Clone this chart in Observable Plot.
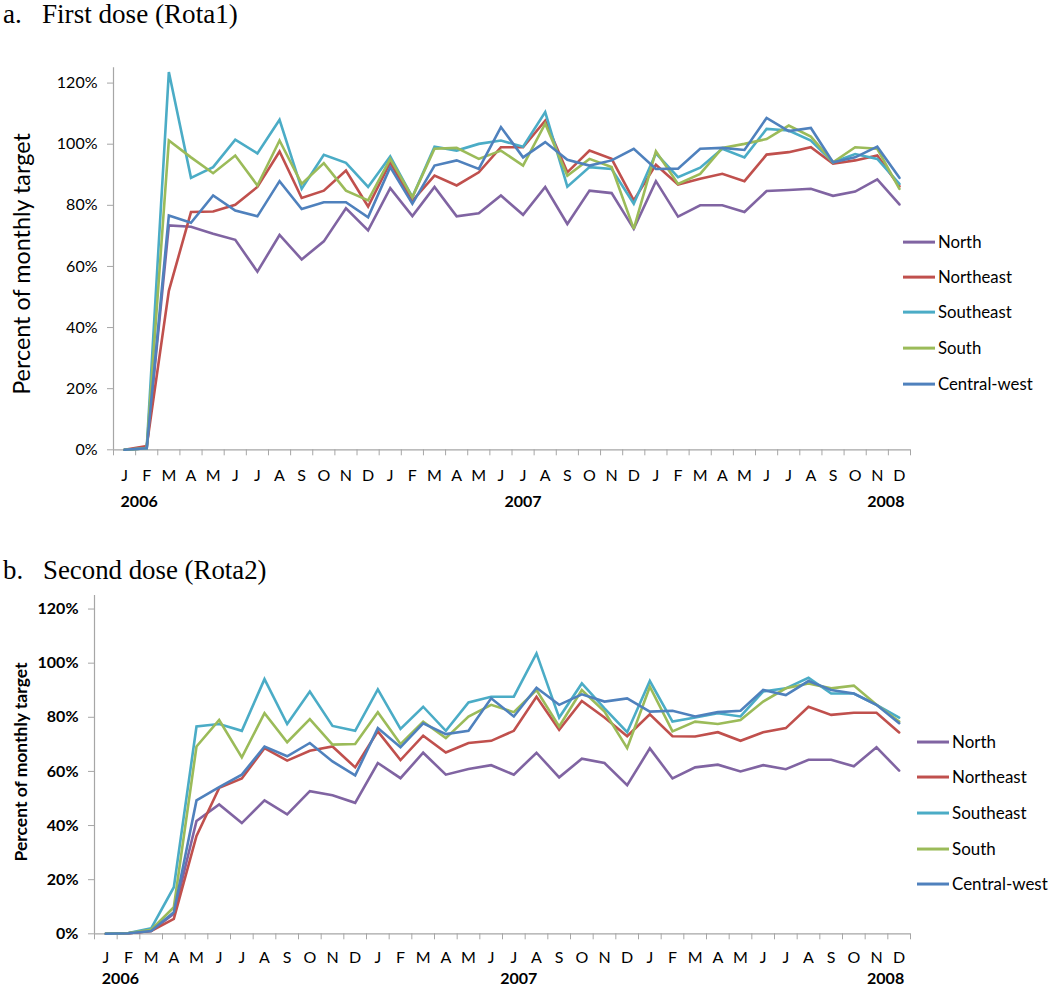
<!DOCTYPE html>
<html>
<head>
<meta charset="utf-8">
<script src="https://cdn.jsdelivr.net/npm/d3@7"></script>
<script src="https://cdn.jsdelivr.net/npm/@observablehq/plot@0.6"></script>
<style>
  html, body { margin: 0; padding: 0; background: #fff; }
  #page { position: relative; width: 1050px; height: 990px; overflow: hidden; font-family: Lato, "Open Sans", sans-serif; color: #000; }
  .panel { position: absolute; left: 0; }
  .title { position: absolute; font-family: "Liberation Serif", "Times New Roman", serif; white-space: nowrap; line-height: 1; }
  .ylab { position: absolute; white-space: nowrap; line-height: 1; transform: translate(-50%, -50%) rotate(-90deg); }
  .leg { position: absolute; display: flex; align-items: center; transform: translateY(-50%); white-space: nowrap; line-height: 1; }
  .leg .sw { width: 32px; height: 3px; margin-right: 3px; flex: none; }
</style>
</head>
<body>
<div id="page"></div>
<script>
// ---------------- data ----------------
const months = ["J","F","M","A","M","J","J","A","S","O","N","D"];
const yearLabels = ["2006","2007","2008"];
const regions = ["North","Northeast","Southeast","South","Central-west"];
const regionColors = ["#8064A2","#C0504D","#4BACC6","#9BBB59","#4F81BD"];
const yTicks = [0,20,40,60,80,100,120];

// a. First dose (Rota1), % of monthly target, Jan 2006 - Dec 2008
const rota1North = [0,0.5,73.4,73,70.7,68.7,58.3,70.3,62.3,68.2,79,71.8,
  85.6,76.5,86,76.4,77.4,83.2,76.9,86,73.9,84.8,84,72.3,
  87.9,76.3,80,80,77.8,84.7,85,85.4,83.1,84.5,88.5,80.3];
const rota1Northeast = [0,1.2,52,77.8,78,80.2,86,97.6,82.4,84.8,91.4,79.6,
  94,81.5,89.7,86.5,90.8,99,99,107.7,90.8,97.9,95.2,81.6,
  93.3,86.8,88.7,90.3,87.9,96.6,97.4,99,93.6,94.7,96.3,86.2];
const rota1Southeast = [0,0.5,123.6,89,92.5,101.5,97,108,85.4,96.5,93.9,86,
  96,82.7,99.2,97.9,100.1,101.2,99.2,110.5,86.1,92.5,91.9,80.5,
  97,89.2,92.3,98.5,95.7,105,104.5,101.2,94.1,96.8,95.2,87];
const rota1South = [0,0.5,101.2,95.7,90.5,96.3,86.5,101.2,87,93.8,84.8,81.6,
  95.2,82.7,98.5,98.8,95.2,97.9,93,106.7,89.7,95.2,92.5,72.3,
  97.7,87,90.3,98.8,100.1,101.7,106.1,102.5,94.1,99,98.5,85.4];
const rota1CentralWest = [0,0.5,76.7,74.3,83.2,78.3,76.4,87.9,78.8,81,81,76.1,
  92.5,80.5,93,94.7,91.9,105.6,95.7,100.7,94.9,93,94.7,98.5,
  91.9,92,98.5,98.8,98.1,108.6,104.3,105.3,94.1,95.7,99.2,89];

// b. Second dose (Rota2)
const rota2North = [0,0.2,1,7.4,41.7,47.8,40.9,49.3,44.1,52.7,51.2,48.4,
  63.1,57.5,66.9,58.8,60.9,62.3,58.8,66.9,57.8,64.7,63.1,54.9,
  68.5,57.4,61.5,62.5,60,62.3,60.8,64.3,64.3,61.9,68.9,60.3];
const rota2Northeast = [0,0.2,1,5.5,36.2,53.9,57.4,68.6,64,67.6,69.2,61.5,
  74.8,64.2,73.2,67,70.5,71.3,75,87.6,75.4,86,79.9,73,
  81.1,73,72.9,74.5,71.3,74.5,76,83.9,80.9,81.7,81.7,74.4];
const rota2Southeast = [0,0.3,2,17.2,76.6,77.5,75,94.1,77.5,89.5,76.8,75,
  90.3,75.7,83.9,75,85.5,87.6,87.6,103.6,79.9,92.5,83.3,74.5,
  93.4,78.4,79.9,81.5,80.3,89.5,90.7,94.6,88.8,88.8,84.6,79.9];
const rota2South = [0,0.3,1.5,9.8,69.2,79,65.2,81.5,70.8,79.3,69.9,70.1,
  81.9,70.1,78.4,72.3,80.3,84.6,81.9,90.1,76.6,90.1,82.1,68.6,
  91.3,74.8,78.4,77.5,79,85.8,90.7,92.5,90.7,91.7,84.6,78.4];
const rota2CentralWest = [0,0.2,1,8,49.3,54.2,58.8,69.2,65.6,70.5,63.7,58.5,
  76,68.9,77.8,73.8,75,87,80.3,90.9,84.6,88.5,85.8,87,
  82.1,82.4,80.3,81.9,82.4,90.1,88.2,93.4,90.1,88.8,84.6,77.8];

// ---------------- helpers ----------------
function tidy(seriesList) {
  const out = [];
  seriesList.forEach((vals, k) => vals.forEach((v, i) => out.push({i, v, region: regions[k]})));
  return out;
}
const nMonths = 36;
const monthIdx = d3.range(nMonths);
const boundaries = d3.range(nMonths + 1).map(d => d - 0.5);
const yearMarks = [
  {i: 0, label: yearLabels[0], anchor: "start"},
  {i: 18, label: yearLabels[1], anchor: "middle"},
  {i: 35, label: yearLabels[2], anchor: "end"}
];
const axisGray = "#a6a6a6";

function panel(data, o) {
  const yearCommon = {x: "i", text: "label", frameAnchor: "bottom", lineAnchor: "middle", dy: o.yearDy, fontWeight: "bold"};
  return Plot.plot({
    width: 1050, height: o.height,
    marginLeft: o.ml, marginRight: o.mr, marginTop: o.mt, marginBottom: o.mb,
    style: {fontFamily: "Lato, 'Open Sans', sans-serif", fontSize: "16px", background: "transparent", color: "#000", overflow: "visible"},
    x: {type: "linear", domain: [-0.5, nMonths - 0.5]},
    y: {domain: [0, 125]},
    color: {domain: regions, range: regionColors},
    marks: [
      Plot.ruleX([-0.5], {stroke: axisGray, strokeWidth: 1.2}),
      Plot.ruleY([0], {stroke: axisGray, strokeWidth: 1.2}),
      Plot.axisY({ticks: yTicks, tickSize: 6, tickPadding: 10, tickFormat: d => d + "%", stroke: axisGray, fill: "#000", label: null, fontWeight: o.yBold ? "bold" : "normal"}),
      Plot.axisX({ticks: boundaries, tickSize: 6, tickFormat: () => "", stroke: axisGray, label: null}),
      Plot.axisX({ticks: monthIdx, tickSize: 0, tickPadding: o.monthPad, tickFormat: i => months[i % 12], fill: "#000", label: null}),
      Plot.text(yearMarks, {...yearCommon, textAnchor: "start", dx: -4, filter: d => d.anchor === "start"}),
      Plot.text(yearMarks, {...yearCommon, textAnchor: "middle", dx: o.midDx, filter: d => d.anchor === "middle"}),
      Plot.text(yearMarks, {...yearCommon, textAnchor: "end", dx: 5, filter: d => d.anchor === "end"}),
      Plot.line(data, {x: "i", y: "v", z: "region", stroke: "region", strokeWidth: 2.6, strokeLinejoin: "miter", strokeMiterlimit: 3})
    ]
  });
}

const page = document.getElementById("page");
// add a text element and scale its font so its unrotated width matches the reference width
function addFit(cls, text, css, baseSize, targetWidth) {
  const el = document.createElement("div");
  el.className = cls;
  el.textContent = text;
  Object.assign(el.style, css);
  el.style.fontSize = baseSize + "px";
  page.appendChild(el);
  const w = el.offsetWidth;
  if (w > 0 && targetWidth) el.style.fontSize = (baseSize * targetWidth / w).toFixed(2) + "px";
  return el;
}
function addText(cls, text, css, size) {
  const el = document.createElement("div");
  el.className = cls;
  el.textContent = text;
  Object.assign(el.style, css);
  el.style.fontSize = size;
  page.appendChild(el);
  return el;
}
function addLegend(x, ys, targetWidth) {
  // size font so "Central-west" has the reference width
  const probe = document.createElement("span");
  probe.textContent = regions[4];
  probe.style.cssText = "position:absolute;visibility:hidden;white-space:nowrap;font-size:18px;";
  page.appendChild(probe);
  const fs = 18 * targetWidth / probe.offsetWidth;
  page.removeChild(probe);
  regions.forEach((r, k) => {
    const item = document.createElement("div");
    item.className = "leg";
    item.style.left = x + "px";
    item.style.top = ys[k] + "px";
    item.style.fontSize = fs.toFixed(2) + "px";
    const sw = document.createElement("div");
    sw.className = "sw";
    sw.style.background = regionColors[k];
    const t = document.createElement("span");
    t.textContent = r;
    item.appendChild(sw);
    item.appendChild(t);
    page.appendChild(item);
  });
}
function placeBaseline(el, baselineY) {
  // position element so that its text baseline sits at baselineY
  const fs = parseFloat(el.style.fontSize);
  el.style.top = (baselineY - 0.86 * fs) + "px";
}

// ---------------- panel a ----------------
const svgA = panel(tidy([rota1North, rota1Northeast, rota1Southeast, rota1South, rota1CentralWest]),
  {height: 520, ml: 113, mr: 140, mt: 67.3, mb: 70.7, monthPad: 20, yearDy: 52, midDx: 0, yBold: false});
const wrapA = document.createElement("div");
wrapA.className = "panel"; wrapA.style.top = "0px";
wrapA.appendChild(svgA); page.appendChild(wrapA);

const titleA = addFit("title", "First dose (Rota1)", {left: "42px"}, 26, 196);
placeBaseline(titleA, 24);
placeBaseline(addText("title", "a.", {left: "3px"}, titleA.style.fontSize), 24);
addFit("ylab", "Percent of monthly target", {left: "22px", top: "264px"}, 20, 262);
addLegend(903, [242, 277, 312, 348, 384], 95);

// ---------------- panel b ----------------
const svgB = panel(tidy([rota2North, rota2Northeast, rota2Southeast, rota2South, rota2CentralWest]),
  {height: 470, ml: 94, mr: 140, mt: 75, mb: 56.7, monthPad: 18, yearDy: 45, midDx: 5, yBold: true});
const wrapB = document.createElement("div");
wrapB.className = "panel"; wrapB.style.top = "520px";
wrapB.appendChild(svgB); page.appendChild(wrapB);

const titleB = addFit("title", "Second dose (Rota2)", {left: "43px"}, 26, 224);
placeBaseline(titleB, 580);
placeBaseline(addText("title", "b.", {left: "3px"}, titleB.style.fontSize), 580);
addFit("ylab", "Percent of monthly target", {left: "21px", top: "762px", fontWeight: "bold"}, 16, 199);
addLegend(917, [742, 777, 813, 849, 884], 96);
</script>
</body>
</html>
